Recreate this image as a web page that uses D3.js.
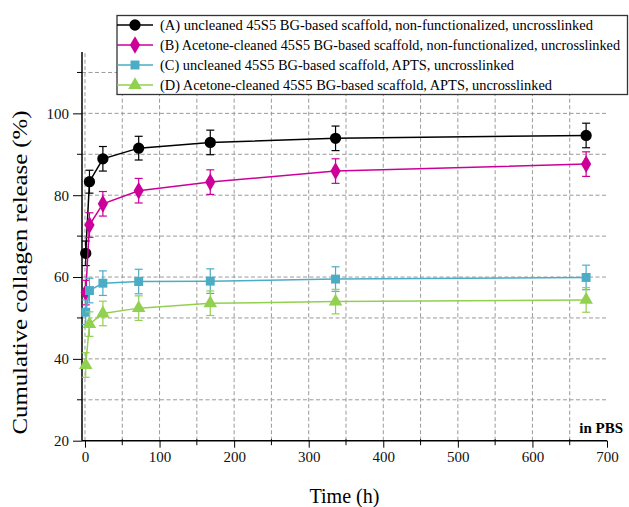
<!DOCTYPE html>
<html>
<head>
<meta charset="utf-8">
<script src="https://cdn.jsdelivr.net/npm/d3@7"></script>
<style>
  body { margin: 0; background: #fff; }
  svg { display: block; }
</style>
</head>
<body>
<svg id="drawing_region"></svg>
<script>
// 測定時間 (h)
const times = [1, 6, 24, 72, 168, 336, 672]

// 各系列の平均値 (%)
const valuesA = [65.8, 83.3, 88.9, 91.5, 92.9, 93.9, 94.6]
const valuesB = [56.2, 72.7, 77.9, 81.1, 83.2, 85.9, 87.6]
const valuesC = [51.4, 56.7, 58.5, 58.9, 59.0, 59.5, 59.9]
const valuesD = [38.5, 48.5, 51.1, 52.4, 53.6, 54.0, 54.4]

// 標準偏差
const errorsA = [3.0, 2.8, 3.0, 2.9, 3.0, 3.0, 3.0]
const errorsB = [3.0, 3.0, 3.0, 3.0, 3.0, 3.0, 3.0]
const errorsC = [3.0, 3.0, 3.0, 3.0, 3.0, 3.0, 3.0]
const errorsD = [3.0, 3.0, 3.0, 3.0, 3.0, 3.0, 3.0]

const seriesNames = [
    '(A) uncleaned 45S5 BG-based scaffold, non-functionalized, uncrosslinked',
    '(B) Acetone-cleaned 45S5 BG-based scaffold, non-functionalized, uncrosslinked',
    '(C) uncleaned 45S5 BG-based scaffold, APTS, uncrosslinked',
    '(D) Acetone-cleaned 45S5 BG-based scaffold, APTS, uncrosslinked'
]

const xTicks = [0, 100, 200, 300, 400, 500, 600, 700]
const yTicks = [20, 40, 60, 80, 100]

const SERIF = '"Liberation Serif", "DejaVu Serif", serif'

class ReleasePlot {
    constructor(config, series) {
        this.config = config
        this.series = series
        this.init()
    }

    init() {
        let self = this
        self.svg = d3.select(self.config.parent)
            .attr('width', self.config.width)
            .attr('height', self.config.height)
            .style('font-family', SERIF)

        self.xscale = d3.scaleLinear().domain([-4, 700]).range([82, 607])
        self.yscale = d3.scaleLinear().domain([20, 115]).range([440.7, 52])

        self.grid = self.svg.append('g')
        self.axes = self.svg.append('g')
        self.chart = self.svg.append('g')
        self.legend = self.svg.append('g')
    }

    render() {
        let self = this
        const x = self.xscale, y = self.yscale
        const [x0, x1] = x.range()
        const [y0, y1] = y.range()

        // グリッド
        const vgrid = d3.range(0, 651, 50)
        const hgrid = d3.range(30, 111, 10)
        self.grid.selectAll('.vg').data(vgrid).enter().append('line')
            .attr('x1', d => x(d)).attr('x2', d => x(d))
            .attr('y1', y0).attr('y2', y1)
            .attr('stroke', '#9a9a9a').attr('stroke-dasharray', '4,2.5')
        self.grid.selectAll('.hg').data(hgrid).enter().append('line')
            .attr('x1', x0).attr('x2', x1)
            .attr('y1', d => y(d)).attr('y2', d => y(d))
            .attr('stroke', '#9a9a9a').attr('stroke-dasharray', '4,2.5')

        // x軸
        const xaxis = d3.axisBottom(x).tickValues(xTicks).tickSize(7).tickPadding(4).tickSizeOuter(0)
        const xg = self.axes.append('g').attr('transform', `translate(0,${y0})`).call(xaxis)
        xg.select('.domain').attr('d', `M${x0},0H${x1}`).attr('stroke-width', 1.5)
        xg.selectAll('text').style('font-family', SERIF).style('font-size', '15px').attr('fill', '#111')
        self.axes.append('g').attr('transform', `translate(0,${y0})`)
            .selectAll('line').data(d3.range(50, 700, 100)).enter().append('line')
            .attr('x1', d => x(d)).attr('x2', d => x(d))
            .attr('y1', -1.5).attr('y2', 4.5).attr('stroke', '#000')

        // y軸
        const yaxis = d3.axisLeft(y).tickValues(yTicks).tickSize(9).tickPadding(4).tickSizeOuter(0)
        const yg = self.axes.append('g').attr('transform', `translate(${x0},0)`).call(yaxis)
        yg.select('.domain').attr('d', `M0,${y0}V${y1}`).attr('stroke-width', 1.5)
        yg.selectAll('text').style('font-family', SERIF).style('font-size', '15px').attr('fill', '#111')
        self.axes.append('g').attr('transform', `translate(${x0},0)`)
            .selectAll('line').data(d3.range(30, 111, 20)).enter().append('line')
            .attr('x1', -5).attr('x2', 0)
            .attr('y1', d => y(d)).attr('y2', d => y(d)).attr('stroke', '#000')

        // 軸ラベル
        self.svg.append('text')
            .attr('x', (x0 + x1) / 2).attr('y', 503)
            .attr('text-anchor', 'middle').attr('font-size', 20)
            .attr('textLength', 70).attr('lengthAdjust', 'spacingAndGlyphs')
            .text('Time (h)')
        self.svg.append('text')
            .attr('transform', `translate(27,272.5) rotate(-90)`)
            .attr('text-anchor', 'middle').attr('font-size', 21)
            .attr('textLength', 324).attr('lengthAdjust', 'spacingAndGlyphs')
            .text('Cumulative collagen release (%)')
        self.svg.append('text')
            .attr('x', 623).attr('y', 433)
            .attr('text-anchor', 'end').attr('font-size', 15).attr('font-weight', 'bold')
            .text('in PBS')

        // 系列の描写
        self.series.forEach(s => {
            const pts = times.map((t, i) => ({t: t, v: s.values[i], e: s.errors[i]}))
            const g = self.chart.append('g')

            const bars = g.selectAll('.err').data(pts).enter().append('g')
                .attr('stroke', s.color).attr('stroke-width', 1.2)
            bars.append('line')
                .attr('x1', d => x(d.t)).attr('x2', d => x(d.t))
                .attr('y1', d => y(d.v - d.e)).attr('y2', d => y(d.v + d.e))
            bars.append('line')
                .attr('x1', d => x(d.t) - 4).attr('x2', d => x(d.t) + 4)
                .attr('y1', d => y(d.v + d.e)).attr('y2', d => y(d.v + d.e))
            bars.append('line')
                .attr('x1', d => x(d.t) - 4).attr('x2', d => x(d.t) + 4)
                .attr('y1', d => y(d.v - d.e)).attr('y2', d => y(d.v - d.e))

            g.append('path')
                .attr('d', d3.line().x(d => x(d.t)).y(d => y(d.v))(pts))
                .attr('stroke', s.color).attr('stroke-width', 1.5).attr('fill', 'none')

            g.selectAll('.mark').data(pts).enter().append('path')
                .attr('d', d3.symbol().type(s.symbol).size(s.size))
                .attr('transform', d => `translate(${x(d.t)},${y(d.v)})`)
                .attr('fill', s.color)
        })

        // 凡例
        self.legend.append('rect')
            .attr('x', 117).attr('y', 15.5).attr('width', 510.5).attr('height', 79)
            .attr('fill', '#fff').attr('stroke', '#333').attr('stroke-width', 1.3)
        const items = self.legend.selectAll('.item').data(self.series).enter().append('g')
            .attr('transform', (d, i) => `translate(117,${25 + i * 20})`)
        items.append('line')
            .attr('x1', 0).attr('x2', 36).attr('stroke', d => d.color).attr('stroke-width', 1.5)
        items.append('path')
            .attr('d', d => d3.symbol().type(d.symbol).size(d.size)())
            .attr('transform', 'translate(18,0)')
            .attr('fill', d => d.color)
        items.append('text')
            .attr('x', 43).attr('y', 5)
            .attr('font-size', 14)
            .attr('textLength', d => d.labelWidth).attr('lengthAdjust', 'spacingAndGlyphs')
            .text((d, i) => seriesNames[i])
    }
}

const series = [
    {values: valuesA, errors: errorsA, color: '#000000', symbol: d3.symbolCircle, size: 100, labelWidth: 433},
    {values: valuesB, errors: errorsB, color: '#cc0099', symbol: d3.symbolDiamond, size: 90, labelWidth: 460},
    {values: valuesC, errors: errorsC, color: '#4bacc6', symbol: d3.symbolSquare, size: 80, labelWidth: 354},
    {values: valuesD, errors: errorsD, color: '#92d050', symbol: d3.symbolTriangle, size: 80, labelWidth: 392}
]

const config = {
    parent: '#drawing_region',
    width: 629,
    height: 507
}

const plot = new ReleasePlot(config, series)
plot.render()
</script>
</body>
</html>
